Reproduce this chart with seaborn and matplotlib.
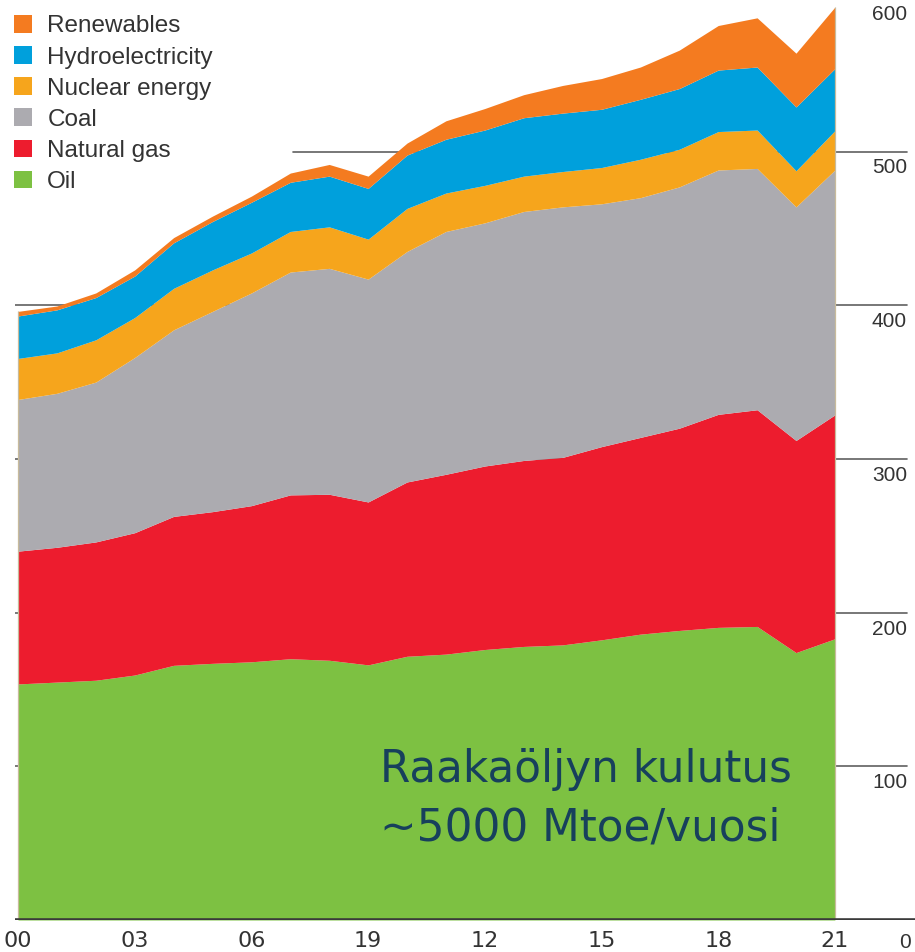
import numpy as np
import pandas as pd
import matplotlib
matplotlib.use("Agg")
import matplotlib.pyplot as plt
from matplotlib.patches import Patch
import seaborn as sns

# ========== data (Mtoe) ==========
years = list(range(2000, 2022))
oil = [153.6, 154.8, 156.0, 159.4, 165.7, 167.0, 168.0, 170.0, 169.0, 166.0, 171.6,
       173.0, 176.0, 178.0, 179.0, 182.3, 186.0, 188.4, 190.4, 191.0, 174.0, 183.0]
natural_gas = [86.4, 87.7, 90.0, 92.6, 96.9, 98.7, 101.6, 106.6, 108.0, 106.0, 113.4,
               117.0, 119.4, 121.0, 122.0, 125.7, 128.0, 131.6, 138.6, 141.0, 138.0, 145.7]
coal = [98.7, 100.2, 104.0, 114.0, 121.4, 130.3, 138.4, 145.0, 147.0, 145.0, 150.0,
        158.0, 158.2, 162.0, 163.0, 158.0, 156.0, 157.0, 159.0, 157.0, 152.0, 159.3]
nuclear = [26.7, 26.3, 27.5, 26.0, 27.0, 27.0, 26.0, 26.4, 27.0, 26.0, 28.0,
           25.0, 24.4, 23.0, 23.0, 23.6, 25.0, 24.5, 25.0, 25.0, 23.5, 25.6]
hydro = [27.6, 28.0, 27.5, 27.0, 29.6, 31.5, 33.0, 32.0, 33.0, 33.0, 34.7,
         35.0, 36.0, 38.0, 38.0, 37.9, 39.0, 39.5, 40.0, 41.0, 41.5, 40.4]
renewables = [3.0, 2.5, 3.0, 4.0, 3.4, 3.5, 4.0, 6.0, 7.6, 8.0, 7.8,
              12.0, 14.0, 15.0, 18.0, 20.0, 21.0, 25.0, 29.0, 32.0, 35.0, 40.0]

series_names = ["Oil", "Natural gas", "Coal", "Nuclear energy", "Hydroelectricity", "Renewables"]
series_colors = ["#7dc142", "#ed1c2e", "#acabb0", "#f6a51c", "#00a0dc", "#f47b20"]

x_ticks = [2000, 2003, 2006, 2009, 2012, 2015, 2018, 2021]
x_ticklabels = ["00", "03", "06", "19", "12", "15", "18", "21"]
y_grid = [100, 200, 300, 400, 500, 600]
y_labels = ["0", "100", "200", "300", "400", "500", "600"]

df = pd.DataFrame({"year": years, "Oil": oil, "Natural gas": natural_gas, "Coal": coal,
                   "Nuclear energy": nuclear, "Hydroelectricity": hydro, "Renewables": renewables})

# ========== plot ==========
sns.set_theme(style="white")
plt.rcParams["font.family"] = ["Liberation Sans", "DejaVu Sans"]

fig = plt.figure(figsize=(9.15, 9.52), dpi=100)
ax = fig.add_axes([15 / 915, 32 / 952, 900 / 915, 920 / 952])
px_year = 38.9
x0 = 2000 - 3 / px_year
ax.set_xlim(x0, x0 + 900 / px_year)
ax.set_ylim(0, 598.6)

# grid lines behind the areas (upper ones stop where the legend sits)
for v in y_grid:
    start = 0 if v < 500 else (293 - 15) / 900
    ax.axhline(v, xmin=start, xmax=892 / 900, color="#606060", lw=1.2, zorder=0)

ax.stackplot(df["year"], [df[c] for c in series_names], colors=series_colors,
             lw=0, zorder=2)
total = df[series_names].sum(axis=1)
ax.vlines([years[0], years[-1]], 0, [total.iloc[0], total.iloc[-1]],
          color="#c8bb9c", lw=0.9, zorder=3)
ax.axhline(0, color="#3a3a3a", lw=2.6, zorder=5)

for sp in ax.spines.values():
    sp.set_visible(False)

ax.set_yticks([])
ax.set_xticks(x_ticks)
ax.set_xticklabels(x_ticklabels, family=["Liberation Sans Narrow", "DejaVu Sans"],
                   fontsize=16, color="#333333")
ax.tick_params(axis="x", length=0, pad=8)

# value labels on the right, under each line
x_lab = 2000 + (907 - 18) / px_year
for i, lab in enumerate(y_labels):
    v = i * 100
    if v > 0:
        ax.annotate(lab, xy=(x_lab, v), xytext=(0, -5), textcoords="offset points",
                    ha="right", va="top", fontsize=15, color="#333333",
                    annotation_clip=False)
    else:
        ax.annotate(lab, xy=(2000 + (911 - 18) / px_year, v), xytext=(0, -9),
                    textcoords="offset points", ha="right", va="top", fontsize=15,
                    color="#333333", annotation_clip=False)

# legend
handles = [Patch(facecolor=c, edgecolor="none") for c in series_colors[::-1]]
fig.legend(handles, series_names[::-1], loc="upper left", bbox_to_anchor=(14 / 915, 1 - 15 / 952),
           frameon=False, fontsize=17.5, handlelength=0.75, handleheight=0.75,
           handletextpad=0.62, labelspacing=0.36, borderpad=0, borderaxespad=0,
           labelcolor="#333333")

# annotation
ann_color = "#17405c"
ann_x = 2000 + (380 - 18) / px_year
ax.text(ann_x, (920 - 782) / 1.537, "Raakaöljyn kulutus",
        family="DejaVu Sans", fontsize=31.5, color=ann_color,
        ha="left", va="baseline", zorder=6)
ax.text(ann_x, (920 - 840) / 1.537, "~5000 Mtoe/vuosi",
        family="DejaVu Sans", fontsize=31.5, color=ann_color,
        ha="left", va="baseline", zorder=6)

fig.savefig("out.png", dpi=100)
